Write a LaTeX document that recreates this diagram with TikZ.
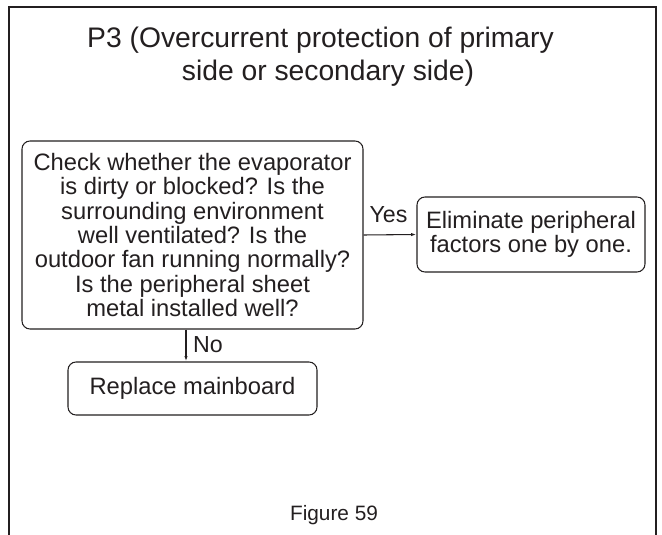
\documentclass[tikz,border=0pt]{standalone}
\usepackage{fontspec}
\setmainfont{Liberation Sans}
\usetikzlibrary{arrows.meta}
\definecolor{ink}{HTML}{231F20}
\begin{document}
\begin{tikzpicture}[x=0.75pt,y=-0.75pt,
  every node/.style={text=ink},
  flowbox/.style={draw=ink, line width=0.8pt, rounded corners=6pt, align=center,
    inner sep=0pt, font=\fontsize{17.8pt}{18.3pt}\selectfont},
  lbl/.style={anchor=base, inner sep=0pt, font=\fontsize{17.4pt}{18.3pt}\selectfont},
  ttl/.style={anchor=base, inner sep=0pt, font=\fontsize{21.2pt}{25pt}\selectfont},
  conn/.style={draw=ink, line width=0.8pt, -{Latex[length=4pt,width=2.4pt]}}]
\useasboundingbox[fill=white] (0,0) rectangle (662,535);
% outer frame (open at the bottom)
\coordinate (fbl) at (9,537);
\coordinate (ftl) at (9,7);
\coordinate (ftr) at (656,7);
\coordinate (fbr) at (656,537);
\draw[ink, line width=1.1pt] (fbl) -- (ftl) -- (ftr) -- (fbr);
% title
\node[ttl] (t1) at (320.5,48) {P3 (Overcurrent protection of primary};
\node[ttl] (t2) at (328,81) {side or secondary side)};
% boxes
\node[flowbox, minimum width=255.75pt, minimum height=141pt] (check) at (192.5,235)
  {Check whether the evaporator\\is dirty or blocked? Is the\\surrounding environment\\well ventilated? Is the\\outdoor fan running normally?\\Is the peripheral sheet\\metal installed well?};
\node[flowbox, minimum width=171pt, minimum height=56.25pt] (elim) at (531,234.5)
  {Eliminate peripheral\\factors one by one.};
\node[flowbox, minimum width=186.75pt, minimum height=39.75pt] (repl) at (192.5,388.5)
  {Replace mainboard};
% connectors
\draw[conn] (check.east) -- (elim.west);
\coordinate (nx) at (186,0);
\draw[conn] (check.south -| nx) -- (repl.north -| nx);
% labels
\node[lbl] (yes) at (388.5,223) {Yes};
\node[lbl] (no) at (208,353) {No};
\node[anchor=base, inner sep=0pt, font=\fontsize{15.6pt}{18pt}\selectfont] (fig) at (334,521) {Figure 59};
\end{tikzpicture}
\end{document}
